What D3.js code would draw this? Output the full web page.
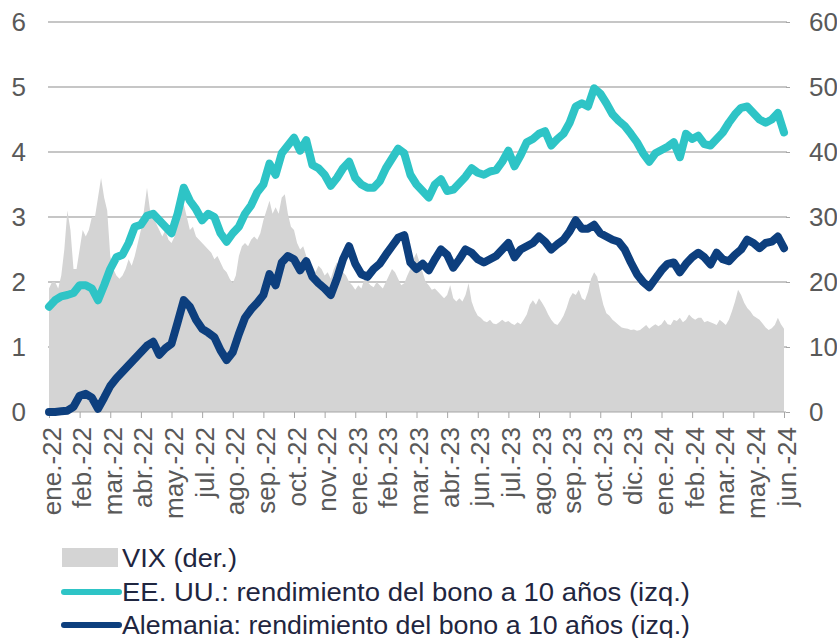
<!DOCTYPE html>
<html><head><meta charset="utf-8">
<script src="https://cdn.jsdelivr.net/npm/d3@7"></script>
<style>body{margin:0;background:#fff}svg{display:block}</style>
</head><body><svg id="c" width="837" height="638"></svg>
<script>
const xTickLabels = ["ene.-22","feb.-22","mar.-22","abr.-22","may.-22","jul.-22","ago.-22","sep.-22","oct.-22","nov.-22","ene.-23","feb.-23","mar.-23","abr.-23","jun.-23","jul.-23","ago.-23","sep.-23","oct.-23","dic.-23","ene.-24","feb.-24","mar.-24","may.-24","jun.-24"];
const leftTicks = [0,1,2,3,4,5,6];
const rightTicks = [0,10,20,30,40,50,60];
// weekly-ish samples (5 per label interval)
const us10y = [1.62,1.72,1.78,1.80,1.83,1.95,1.95,1.90,1.72,1.95,
2.20,2.38,2.42,2.60,2.85,2.88,3.02,3.05,2.95,2.85,
2.75,3.05,3.45,3.25,3.12,2.95,3.05,3.00,2.75,2.62,
2.75,2.85,3.05,3.18,3.38,3.50,3.82,3.65,3.98,4.10,
4.22,4.02,4.18,3.80,3.75,3.65,3.48,3.60,3.75,3.85,
3.60,3.50,3.45,3.45,3.55,3.75,3.90,4.05,3.98,3.65,
3.50,3.40,3.30,3.50,3.58,3.40,3.42,3.52,3.62,3.75,
3.68,3.65,3.70,3.72,3.85,4.02,3.78,3.95,4.15,4.20,
4.28,4.32,4.10,4.20,4.28,4.45,4.70,4.75,4.70,4.98,
4.90,4.75,4.58,4.48,4.40,4.28,4.15,3.98,3.85,3.98,
4.03,4.08,4.15,3.92,4.28,4.20,4.25,4.12,4.10,4.20,
4.30,4.45,4.58,4.68,4.70,4.60,4.50,4.45,4.50,4.60,4.30];
const de10y = [0.00,0.00,0.01,0.02,0.08,0.25,0.28,0.22,0.05,0.22,
0.40,0.52,0.62,0.72,0.82,0.92,1.02,1.08,0.88,0.98,
1.05,1.38,1.72,1.62,1.42,1.28,1.22,1.15,0.95,0.80,
0.92,1.20,1.45,1.58,1.68,1.80,2.12,1.95,2.30,2.40,
2.35,2.18,2.32,2.08,1.98,1.90,1.80,2.05,2.35,2.55,
2.28,2.12,2.08,2.20,2.28,2.42,2.55,2.68,2.72,2.30,
2.20,2.28,2.18,2.35,2.50,2.42,2.22,2.35,2.50,2.45,
2.35,2.30,2.35,2.40,2.50,2.60,2.38,2.50,2.55,2.60,
2.70,2.62,2.50,2.58,2.65,2.78,2.95,2.82,2.82,2.88,
2.75,2.70,2.65,2.62,2.50,2.30,2.12,2.00,1.92,2.05,
2.18,2.28,2.30,2.15,2.28,2.38,2.45,2.38,2.27,2.45,
2.35,2.32,2.42,2.50,2.65,2.60,2.52,2.60,2.62,2.70,2.52];
// VIX, 10 samples per label interval
const vix = [19,20,20,19,21,25,31,28,22,22,
25,28,27,28,30,30,33,36,33,31,
24,22,21,20.5,21,22,23.5,22.5,24,26,
28,31,34.5,31,30,29,28,27,28,26.5,
26,27,29,30.5,32,30,28,28.5,27,26.5,
26,25.5,25,24.5,23.5,24,23,22,21.5,20.5,
19.8,21,24,25.5,26,25.5,26.5,27,26.5,27.5,
29.5,31,32.5,30.5,31.5,30.5,33,33.5,30.5,28.5,
28,26,25,25.5,24,23,22.5,21.5,22.5,22,
21,21.5,20.5,22,23,22.5,21.5,21,20,19.5,
18.8,19.5,19,20.5,20,19.5,19.2,20,19.5,19,
20,21,22,21.5,20.5,19.5,19.8,21,22,23.5,
24.5,23,21.5,20,19.5,18.8,19,18.5,18,17.5,
18,19.5,17.5,17,17.5,17,18,19.8,17,15.7,
14.8,14.5,14,13.8,14.2,13.6,13.5,13.8,14.2,13.8,
14,13.6,13.4,13.8,13.5,14.2,15,16.5,17.2,16.5,
17.5,16.8,16,15,14.2,13.6,13.4,14,14.8,16,
17.5,18.3,18,18.8,17.5,17.2,18.5,20.5,21.5,20.8,
18.5,16.5,15.2,14.8,14.2,13.8,13.4,13,12.9,12.8,
12.6,12.7,12.5,12.6,13,13.4,12.8,13.2,13.5,13.2,
13.5,14.2,13.5,13.4,14.2,14,14.5,13.8,14.2,15,
14.5,14.2,14.5,14.5,13.8,14,13.8,13.6,13.4,14.2,
13.8,13.4,14.2,15.5,17,18.8,18,16.8,16,15.5,
14.8,14.5,14.2,13.6,13,12.6,12.9,13.4,14.5,13.5,12.8];
const legendLabels = ["VIX (der.)","EE. UU.: rendimiento del bono a 10 años (izq.)","Alemania: rendimiento del bono a 10 años (izq.)"];
const colors = {vix:"#d4d4d4", us:"#2ec4c6", de:"#0d3f7e", grid:"#b3b3b3", axisText:"#595959", legendText:"#1f2640"};

const svg = d3.select("#c");
const font = "'Liberation Sans', Arial, sans-serif";
const x = d3.scaleLinear().domain([0, xTickLabels.length-1]).range([49, 784]);
const yL = d3.scaleLinear().domain([0,6]).range([412,22]);
const yR = d3.scaleLinear().domain([0,60]).range([412,22]);

// gridlines
svg.append("g").selectAll("line").data(leftTicks.slice(1)).join("line")
  .attr("x1",48).attr("x2",787).attr("y1",d=>yL(d)).attr("y2",d=>yL(d))
  .attr("stroke",colors.grid).attr("stroke-width",1.5);

// VIX area
const area = d3.area().x((d,i)=>x(i/10)).y0(yR(0)).y1(d=>yR(d)).curve(d3.curveLinear);
svg.append("path").datum(vix).attr("d",area).attr("fill",colors.vix);

// x axis
const xAxis = d3.axisBottom(x).tickValues(d3.range(xTickLabels.length)).tickSize(6).tickFormat(i=>xTickLabels[i]);
const gx = svg.append("g").attr("transform","translate(0,412)").call(xAxis);
gx.select(".domain").attr("stroke","#a6a6a6").attr("stroke-width",1.2).attr("d","M48,0H786");
gx.selectAll(".tick line").attr("stroke","#a6a6a6");
gx.selectAll(".tick text").attr("font-family",font).attr("font-size",26).attr("fill",colors.axisText)
  .attr("transform","rotate(-90)").attr("text-anchor","end").attr("x",-15).attr("y",2).attr("dy","0.35em");

// left axis
const gl = svg.append("g").attr("transform","translate(26,0)").call(d3.axisLeft(yL).tickValues(leftTicks).tickFormat(d3.format("d")).tickSize(0).tickPadding(0));
gl.select(".domain").remove();
gl.selectAll("text").attr("font-family",font).attr("font-size",26).attr("fill",colors.axisText);

// right axis
const gr = svg.append("g").attr("transform","translate(786,0)").call(d3.axisRight(yR).tickValues(rightTicks).tickFormat(d3.format("d")).tickSize(4).tickPadding(19));
gr.select(".domain").remove();
gr.selectAll("line").attr("stroke","#a6a6a6");
gr.selectAll("text").attr("font-family",font).attr("font-size",26).attr("fill",colors.axisText);

// lines
const line = d3.line().x((d,i)=>x(i/5)).y(d=>yL(d)).curve(d3.curveLinear);
svg.append("path").datum(us10y).attr("d",line).attr("fill","none").attr("stroke",colors.us)
  .attr("stroke-width",8).attr("stroke-linejoin","round").attr("stroke-linecap","round");
svg.append("path").datum(de10y).attr("d",line).attr("fill","none").attr("stroke",colors.de)
  .attr("stroke-width",8).attr("stroke-linejoin","round").attr("stroke-linecap","round");

// legend
const lg = svg.append("g");
lg.append("rect").attr("x",62).attr("y",548).attr("width",56).attr("height",19).attr("fill",colors.vix);
lg.append("line").attr("x1",64).attr("x2",119).attr("y1",592).attr("y2",592).attr("stroke",colors.us).attr("stroke-width",6).attr("stroke-linecap","round");
lg.append("line").attr("x1",64).attr("x2",119).attr("y1",625).attr("y2",625).attr("stroke",colors.de).attr("stroke-width",6).attr("stroke-linecap","round");
const legY = [558, 592, 625];
const legW = [115, 568, 568];
lg.selectAll("text").data(legendLabels).join("text")
  .attr("x",122).attr("y",(d,i)=>legY[i]).attr("dy","0.35em")
  .attr("font-family",font).attr("font-size",25).attr("fill",colors.legendText)
  .attr("textLength",(d,i)=>legW[i]).attr("lengthAdjust","spacingAndGlyphs")
  .text(d=>d);
</script></body></html>
